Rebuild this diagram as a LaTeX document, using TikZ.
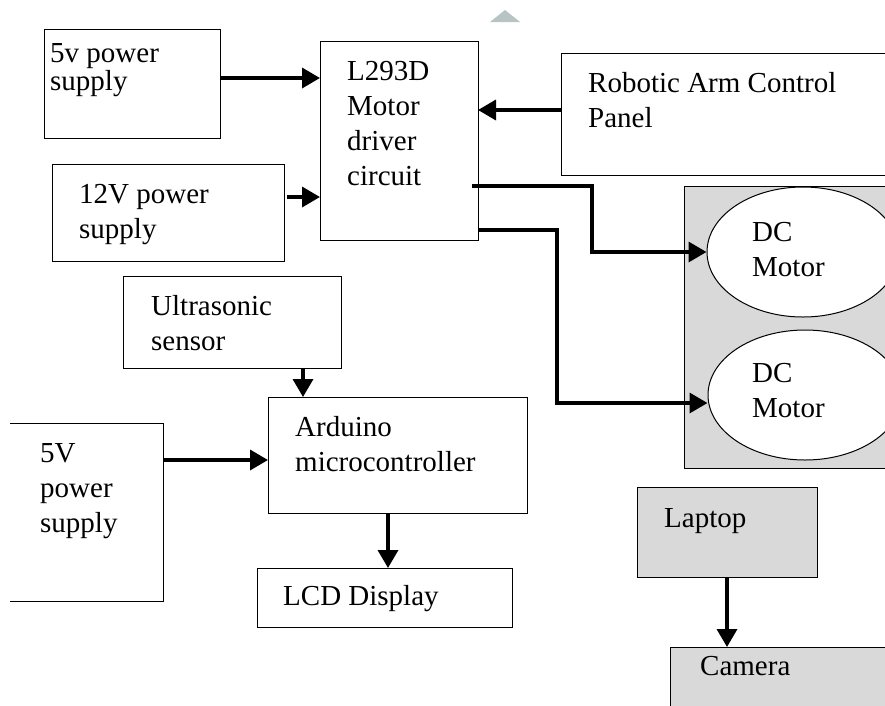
\documentclass[tikz,border=0pt]{standalone}
\usepackage{fontspec}
\setmainfont{Liberation Serif}
\usetikzlibrary{arrows.meta,shapes.geometric}
\definecolor{panelgray}{RGB}{217,217,217}
\definecolor{markgray}{RGB}{184,196,196}
\newcommand{\stack}[1]{\begin{tabular}[t]{@{}l@{}}#1\end{tabular}}
\tikzset{
	blk/.style={draw, line width=1pt, anchor=north west, inner sep=0pt, outer sep=0pt},
	txt/.style={anchor=base west, inner sep=0pt, font=\fontsize{29}{35}\selectfont},
	arr/.style={line width=3.5pt, -{Triangle[length=18pt,width=20pt]}},
}
\begin{document}
\begin{tikzpicture}[x=1pt, y=-1pt, line join=miter]
	\def\W{885} \def\H{705}
	\useasboundingbox (0,0) rectangle (\W,\H);
	\clip (0,0) rectangle (\W,\H);
	%\draw[color=gray!50,dashed] (0,0) grid[step=50] (\W,\H);
	\fill[markgray] (490,22)--(505,10)--(520,22)--cycle;
	% boxes
	\node[blk, minimum width=176, minimum height=109] (ps5v) at (44,29) {};
	\node[blk, minimum width=158, minimum height=199] (drv) at (320,41) {};
	\node[blk, minimum width=232, minimum height=97] (ps12) at (52,164) {};
	\node[blk, minimum width=340, minimum height=122] (arm) at (561,53) {};
	\node[blk, fill=panelgray, minimum width=220, minimum height=282] (motors) at (684,186) {};
	\node[draw, ellipse, fill=white, line width=1pt, minimum width=192, minimum height=130, inner sep=0pt] (dc1) at (803,252) {};
	\node[draw, ellipse, fill=white, line width=1pt, minimum width=194, minimum height=130, inner sep=0pt] (dc2) at (805,395) {};
	\node[blk, minimum width=218, minimum height=92] (us) at (123,276) {};
	\node[blk, minimum width=259, minimum height=116] (ard) at (268,397) {};
	\node[blk, minimum width=255, minimum height=59] (lcd) at (257,568) {};
	\node[anchor=north west, inner sep=0pt, outer sep=0pt, minimum width=153, minimum height=178] (ps5b) at (10,423) {};
	\draw[line width=1pt] (ps5b.north west) -| (ps5b.south east) -- (ps5b.south west);
	\node[blk, fill=panelgray, minimum width=180, minimum height=90] (lap) at (637,487) {};
	\node[blk, fill=panelgray, minimum width=240, minimum height=80] (cam) at (670,647) {};
	% texts
	\node[txt] (t5v) at (50,62) {\stack{5v power\\[-7pt]supply}};
	\node[txt] (tdrv) at (347,80) {\stack{L293D\\Motor\\driver\\circuit}};
	\node[txt] (t12) at (79,203) {\stack{12V power\\supply}};
	\node[txt] (tarm) at (588,92) {\stack{Robotic Arm Control\\Panel}};
	\node[txt] (tdc1) at (752,241) {\stack{DC\\Motor}};
	\node[txt] (tdc2) at (752,382) {\stack{DC\\Motor}};
	\node[txt] (tus) at (151,315) {\stack{Ultrasonic\\sensor}};
	\node[txt] (tard) at (295,436) {\stack{Arduino\\microcontroller}};
	\node[txt] (t5b) at (40,462) {\stack{5V\\power\\supply}};
	\node[txt] (tlcd) at (283,605) {LCD Display};
	\node[txt] (tlap) at (664,527) {Laptop};
	\node[txt] (tcam) at (700,675) {Camera};
	% connectors
	\draw[arr] ([yshift=5.5pt]ps5v.east) -- ([yshift=5.5pt]ps5v.east -| drv.west);
	\draw[arr] ([xshift=3pt,yshift=15.5pt]ps12.east) -- ([yshift=15.5pt]ps12.east -| drv.west);
	\draw[arr] ([yshift=4pt]arm.west) -- ([yshift=4pt]arm.west -| drv.east);
	\draw[arr] ([xshift=-6pt,yshift=54pt]drv.south east) -- ++(120,0) |- (dc1.west);
	\draw[arr] ([yshift=10pt]drv.south east) -- ++(79,0) |- ([yshift=-8pt]dc2.west);
	\draw[arr] ([xshift=-38pt]us.south east) -- ([xshift=-38pt]us.south east |- ard.north);
	\draw[arr] ([yshift=52pt]ps5b.east) -- ([yshift=52pt]ps5b.east -| ard.west);
	\draw[arr] ([xshift=-9.5pt]ard.south) -- ([xshift=-9.5pt]ard.south |- lcd.north);
	\draw[arr] (lap.south) -- (lap.south |- cam.north);
\end{tikzpicture}
\end{document}
